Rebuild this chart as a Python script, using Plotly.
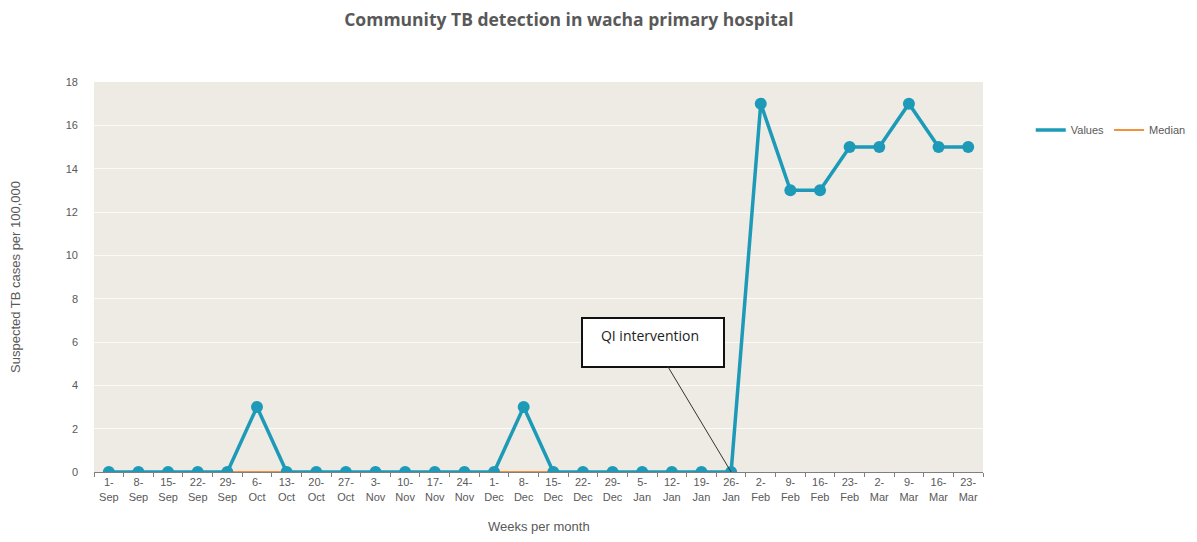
import plotly.graph_objects as go

weeks = ["1-<br>Sep", "8-<br>Sep", "15-<br>Sep", "22-<br>Sep", "29-<br>Sep",
         "6-<br>Oct", "13-<br>Oct", "20-<br>Oct", "27-<br>Oct",
         "3-<br>Nov", "10-<br>Nov", "17-<br>Nov", "24-<br>Nov",
         "1-<br>Dec", "8-<br>Dec", "15-<br>Dec", "22-<br>Dec", "29-<br>Dec",
         "5-<br>Jan", "12-<br>Jan", "19-<br>Jan", "26-<br>Jan",
         "2-<br>Feb", "9-<br>Feb", "16-<br>Feb", "23-<br>Feb",
         "2-<br>Mar", "9-<br>Mar", "16-<br>Mar", "23-<br>Mar"]
values = [0, 0, 0, 0, 0, 3, 0, 0, 0, 0, 0, 0, 0, 0, 3, 0, 0, 0, 0, 0, 0, 0,
          17, 13, 13, 15, 15, 17, 15, 15]
median = [0] * 22
intervention_week = "26-<br>Jan"
intervention_value = 0

teal = "#1C9AB8"
orange = "#F0923A"
grey = "#595959"

fig = go.Figure()
fig.add_trace(go.Scatter(x=weeks[:len(median)], y=median, mode="lines",
                         line=dict(color=orange, width=2), name="Median",
                         showlegend=False))
fig.add_trace(go.Scatter(x=weeks, y=values, mode="lines+markers",
                         line=dict(color=teal, width=3.5),
                         marker=dict(color=teal, size=12),
                         name="Values", showlegend=False))
# legend entries (line only)
fig.add_trace(go.Scatter(x=[None], y=[None], mode="lines",
                         line=dict(color=teal, width=3.5), name="Values"))
fig.add_trace(go.Scatter(x=[None], y=[None], mode="lines",
                         line=dict(color=orange, width=2), name="Median"))

fig.add_annotation(x=intervention_week, y=intervention_value,
                   text="&nbsp;&nbsp;&nbsp;QI intervention<br> ", showarrow=True,
                   arrowhead=0, arrowwidth=1, arrowcolor="#333333",
                   ax=-78, ay=-130, align="left", width=126, height=33,
                   bordercolor="#111111", borderwidth=2, bgcolor="white",
                   font=dict(family="Open Sans, Liberation Sans", size=14, color="#222222"),
                   valign="top", borderpad=7)

# axis titles
fig.add_annotation(text="Weeks per month", xref="paper", yref="paper",
                   x=0.5, y=-0.141, xanchor="center", yanchor="middle",
                   showarrow=False, font=dict(size=13, color=grey))
fig.add_annotation(text="Suspected TB cases per 100,000", xref="paper", yref="paper",
                   x=-0.0889, y=0.5, xanchor="center", yanchor="middle",
                   textangle=-90, showarrow=False, font=dict(size=13, color=grey))

fig.update_layout(
    width=1181, height=526,
    paper_bgcolor="white", plot_bgcolor="#EEEAE4",
    margin=dict(l=86, r=206, t=74, b=62, autoexpand=False),
    title=dict(text="<b>Community TB detection in wacha primary hospital</b>",
               x=0.475, xanchor="center", y=0.978, yanchor="middle",
               font=dict(family="Open Sans, Liberation Sans", size=17.5, color=grey)),
    font=dict(family="Liberation Sans, Arial", color=grey, size=11),
    legend=dict(orientation="h", xref="container", yref="container",
                x=0.866, y=0.768, xanchor="left", yanchor="middle",
                font=dict(size=11, color=grey), itemwidth=30,
                bgcolor="rgba(0,0,0,0)"),
    xaxis=dict(type="category", range=[-0.5, 29.5], showgrid=False,
               showline=True, linecolor="#7F7F7F", linewidth=1,
               ticks="outside", tickson="boundaries", ticklen=4,
               tickcolor="#7F7F7F", tickfont=dict(size=11, color=grey),
               automargin=False, zeroline=False),
    yaxis=dict(range=[0, 18], dtick=2, showgrid=True, gridcolor="#FBFAF8",
               gridwidth=1, zeroline=False, showline=False, automargin=False,
               ticks="", ticklabelstandoff=15, tickfont=dict(size=11, color=grey)),
)

fig.write_html("out.html")
